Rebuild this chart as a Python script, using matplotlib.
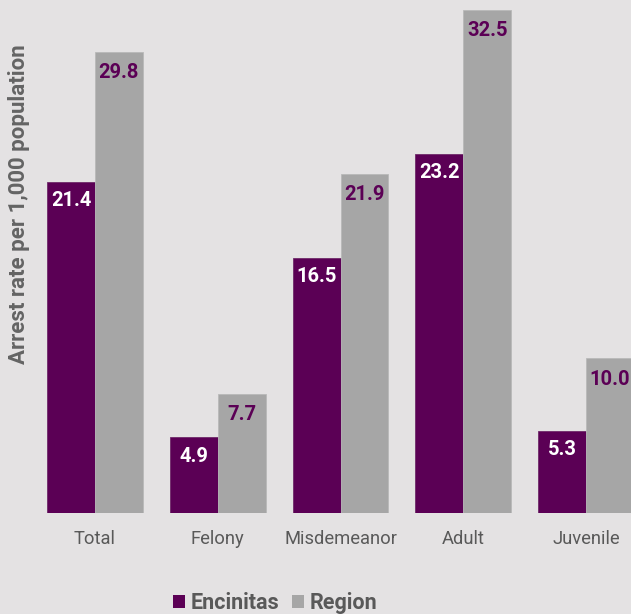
import matplotlib
matplotlib.use("Agg")
import matplotlib.pyplot as plt
from matplotlib.patches import Patch
import numpy as np

categories = ["Total", "Felony", "Misdemeanor", "Adult", "Juvenile"]
encinitas = [21.4, 4.9, 16.5, 23.2, 5.3]
region = [29.8, 7.7, 21.9, 32.5, 10.0]
series_names = ["Encinitas", "Region"]
ylabel = "Arrest rate per 1,000 population"

PURPLE = "#5b0055"
GRAY = "#a6a6a6"
BG = "#e4e2e3"
TEXT = "#595959"

plt.rcParams['font.family'] = ['Roboto', 'DejaVu Sans']

W, H = 631, 614
fig = plt.figure(figsize=(W / 100, H / 100), dpi=100, facecolor=BG)
left_px, right_px = 33.5, 647.5
bottom_px, top_px = 513, 0
ax = fig.add_axes([left_px / W, (H - bottom_px) / H, (right_px - left_px) / W, (bottom_px - top_px) / H])
ax.set_facecolor(BG)

x = np.arange(len(categories))
bw = 0.39
b1 = ax.bar(x - bw / 2, encinitas, bw, color=PURPLE, edgecolor="#6e2a69", linewidth=0.6)
b2 = ax.bar(x + bw / 2, region, bw, color=GRAY, edgecolor="#b9b9b9", linewidth=0.6)

for rect, v in zip(b1, encinitas):
    ax.annotate(f"{v:.1f}", (rect.get_x() + rect.get_width() / 2, v), xytext=(0, -19),
                textcoords="offset pixels", ha="center", va="center",
                color="white", fontsize=14.5, fontweight="bold")
for rect, v in zip(b2, region):
    ax.annotate(f"{v:.1f}", (rect.get_x() + rect.get_width() / 2, v), xytext=(0, -21),
                textcoords="offset pixels", ha="center", va="center",
                color=PURPLE, fontsize=14.5, fontweight="bold")

ax.set_xlim(-0.5, 4.5)
ax.set_ylim(0, 513 / 15.48)
ax.set_xticks(x)
ax.set_xticklabels(categories, fontsize=13.2, color=TEXT)
ax.tick_params(axis="x", length=0, pad=12)
ax.set_yticks([])
for s in ax.spines.values():
    s.set_visible(False)

fig.text(19 / W, 1 - 204 / H, ylabel, rotation=90, ha="center", va="center",
         fontsize=16, fontweight="bold", color="#646464")

handles = [Patch(facecolor=PURPLE, edgecolor="none"), Patch(facecolor=GRAY, edgecolor="none")]
leg = fig.legend(handles, series_names, loc="center", bbox_to_anchor=(275 / W, 1 - 603 / H),
                 ncol=2, frameon=False, handlelength=0.55, handleheight=0.55,
                 handletextpad=0.25, columnspacing=0.6, prop={"size": 15.5, "weight": "bold"})
for t in leg.get_texts():
    t.set_color(TEXT)

fig.savefig("out.png", dpi=100, facecolor=BG)
